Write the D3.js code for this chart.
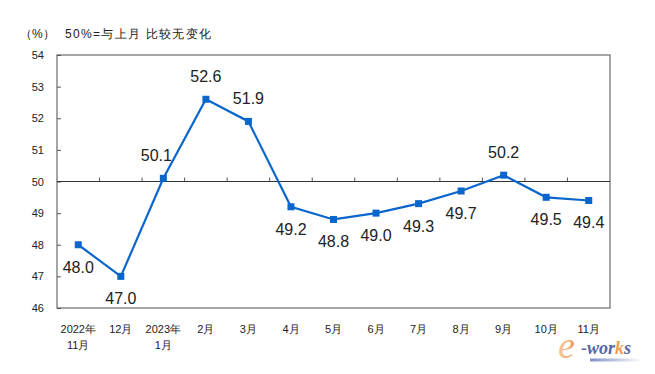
<!DOCTYPE html>
<html>
<head>
<meta charset="utf-8">
<script src="https://cdn.jsdelivr.net/npm/d3@7"></script>
<style>
  html, body { margin: 0; padding: 0; background: #fff; }
  svg { display: block; font-family: "Liberation Sans", Arial, sans-serif; }
</style>
</head>
<body>
<svg id="chart" width="655" height="374"></svg>
<script>
// month categories (two-line labels)
const months = [
  ["2022年", "11月"], ["12月"], ["2023年", "1月"], ["2月"], ["3月"], ["4月"],
  ["5月"], ["6月"], ["7月"], ["8月"], ["9月"], ["10月"], ["11月"]
];
const pmiValues = [48.0, 47.0, 50.1, 52.6, 51.9, 49.2, 48.8, 49.0, 49.3, 49.7, 50.2, 49.5, 49.4];
// where each value label sits relative to its point
const labelSide = ["below", "below", "above", "above", "above", "below", "below", "below", "below", "below", "above", "below", "below"];
const yTicks = [46, 47, 48, 49, 50, 51, 52, 53, 54];

const margin = { top: 55, right: 45, bottom: 66, left: 57 };
const W = 655, H = 374;

const svg = d3.select("#chart");
const keys = months.map((m, i) => i);

const x = d3.scaleBand()
  .domain(keys)
  .range([margin.left, W - margin.right]);

const y = d3.scaleLinear()
  .domain([46, 54])
  .range([H - margin.bottom, margin.top]);

const cx = i => x(i) + x.bandwidth() / 2;

// frame
svg.append("rect")
  .attr("x", margin.left)
  .attr("y", margin.top)
  .attr("width", W - margin.left - margin.right)
  .attr("height", H - margin.top - margin.bottom)
  .attr("fill", "none")
  .attr("stroke", "#6b6b6b")
  .attr("stroke-width", 1.2);

// y axis, ticks pointing inward
const yAxis = svg.append("g")
  .attr("transform", `translate(${margin.left},0)`)
  .call(d3.axisLeft(y).tickValues(yTicks).tickSize(-4).tickPadding(13));
yAxis.select(".domain").remove();
yAxis.selectAll(".tick line").attr("stroke", "#555");
yAxis.selectAll("text")
  .attr("font-size", 11)
  .attr("fill", "#222")
  .attr("font-family", "'Liberation Sans Narrow', 'Liberation Sans', Arial, sans-serif");

// 50 baseline with category boundary ticks
svg.append("line")
  .attr("x1", margin.left).attr("x2", W - margin.right)
  .attr("y1", y(50)).attr("y2", y(50))
  .attr("stroke", "#333").attr("stroke-width", 1.2);

svg.append("g").selectAll("line")
  .data(keys.slice(1))
  .join("line")
  .attr("x1", d => x(d)).attr("x2", d => x(d))
  .attr("y1", y(50)).attr("y2", y(50) - 4)
  .attr("stroke", "#555");

// x labels under the frame
const xl = svg.append("g").selectAll("text")
  .data(months)
  .join("text")
  .attr("text-anchor", "middle")
  .attr("font-size", 11)
  .attr("fill", "#222");
xl.each(function(m, i) {
  const t = d3.select(this);
  m.forEach((s, j) => {
    t.append("tspan")
      .attr("x", cx(i))
      .attr("y", H - margin.bottom + 25 + j * 16)
      .text(s);
  });
});

// line + markers
const line = d3.line()
  .x((d, i) => cx(i))
  .y(d => y(d));

svg.append("path")
  .datum(pmiValues)
  .attr("d", line)
  .attr("fill", "none")
  .attr("stroke", "#0a66cc")
  .attr("stroke-width", 2.2);

svg.append("g").selectAll("rect")
  .data(pmiValues)
  .join("rect")
  .attr("x", (d, i) => cx(i) - 3.5)
  .attr("y", d => y(d) - 3.5)
  .attr("width", 7)
  .attr("height", 7)
  .attr("fill", "#0a66cc");

// value labels
svg.append("g").selectAll("text")
  .data(pmiValues)
  .join("text")
  .attr("text-anchor", "middle")
  .attr("font-size", 16)
  .attr("fill", "#222")
  .attr("x", (d, i) => cx(i) + (i === 2 ? -7 : 0))
  .attr("y", (d, i) => y(d) + (labelSide[i] === "above" ? -17 : 28))
  .text(d => d.toFixed(1));

// header text
svg.append("text")
  .attr("x", 20).attr("y", 38)
  .attr("font-size", 12)
  .attr("fill", "#222")
  .text("（%）");
svg.append("text")
  .attr("x", 65).attr("y", 38)
  .attr("font-size", 12)
  .attr("letter-spacing", 1.3)
  .attr("fill", "#222")
  .text("50%=与上月 比较无变化");

// e-works mark
const defs = svg.append("defs");
const eg = defs.append("linearGradient").attr("id", "eGrad")
  .attr("x1", 0).attr("y1", 0).attr("x2", 1).attr("y2", 0);
eg.append("stop").attr("offset", 0).attr("stop-color", "#f7c9a0");
eg.append("stop").attr("offset", 1).attr("stop-color", "#ee9a52");
const bg = defs.append("linearGradient").attr("id", "barGrad")
  .attr("x1", 0).attr("y1", 0).attr("x2", 1).attr("y2", 0);
bg.append("stop").attr("offset", 0).attr("stop-color", "#7f8fc6");
bg.append("stop").attr("offset", 1).attr("stop-color", "#ffffff");

const logo = svg.append("g").attr("font-style", "italic").attr("font-weight", "bold")
  .attr("font-family", "'Liberation Serif', serif");
logo.append("text")
  .attr("x", 558).attr("y", 358)
  .attr("font-size", 38)
  .attr("font-weight", "normal")
  .attr("fill", "url(#eGrad)")
  .text("e");
const wk = logo.append("text")
  .attr("x", 581).attr("y", 354)
  .attr("font-size", 18)
  .attr("fill", "#5566a6");
wk.append("tspan").text("-wor");
wk.append("tspan").attr("fill", "#f0a050").text("k");
wk.append("tspan").text("s");
svg.append("rect")
  .attr("x", 590).attr("y", 358.5)
  .attr("width", 52).attr("height", 3)
  .attr("fill", "url(#barGrad)");
</script>
</body>
</html>
